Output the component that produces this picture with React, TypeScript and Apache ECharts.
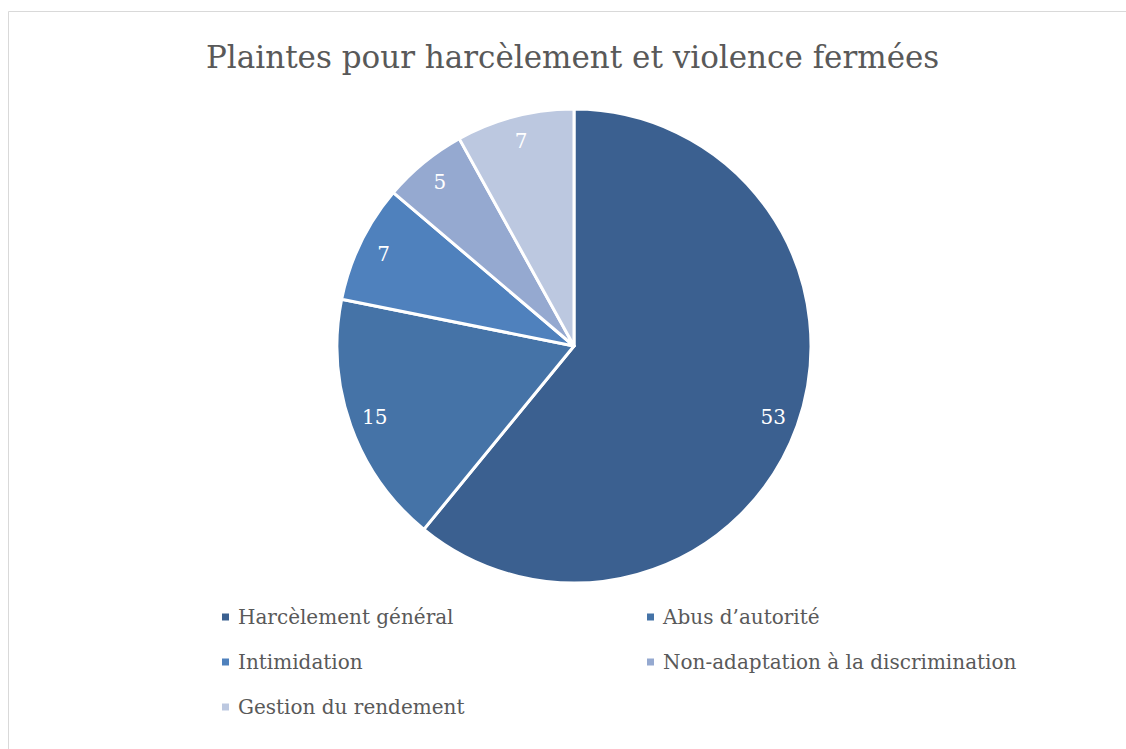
import React, { useEffect, useRef } from "react";
import * as echarts from "echarts";

const categories = [
  "Harcèlement général",
  "Abus d’autorité",
  "Intimidation",
  "Non-adaptation à la discrimination",
  "Gestion du rendement",
];
const values = [53, 15, 7, 5, 7];
const colors = ["#3b6090", "#4573a7", "#4f81bd", "#95a9d0", "#bcc8e0"];
const titleText = "Plaintes pour harcèlement et violence fermées";

const FONT = "DejaVu Serif";

export default function App() {
  const ref = useRef<HTMLDivElement>(null);
  useEffect(() => {
    if (!ref.current) return;
    const chart = echarts.init(ref.current, undefined, { renderer: "svg" });
    const data = categories.map((name, i) => ({
      name,
      value: values[i],
      itemStyle: { color: colors[i] },
    }));
    const R = 237;
    const legendText = {
      fontFamily: FONT,
      fontSize: 20,
      lineHeight: 20,
      color: "#595959",
      padding: [0, 0, 0, 3],
    };
    chart.setOption({
      animation: false,
      backgroundColor: "#ffffff",
      title: {
        text: titleText,
        left: 201,
        top: 36,
        textStyle: {
          fontFamily: FONT,
          fontSize: 31,
          fontWeight: "normal",
          color: "#595959",
        },
      },
      graphic: [
        {
          type: "rect",
          shape: { x: 8.5, y: 11.5, width: 1300, height: 900 },
          style: { fill: "none", stroke: "#d9d9d9", lineWidth: 1 },
          silent: true,
        },
      ],
      legend: [
        {
          data: [categories[0], categories[2], categories[4]],
          orient: "vertical",
          left: 220,
          top: 607,
          padding: 0,
          itemWidth: 9,
          itemHeight: 9,
          itemGap: 25,
          icon: "rect",
          textStyle: legendText,
        },
        {
          data: [categories[1], categories[3]],
          orient: "vertical",
          left: 645,
          top: 607,
          padding: 0,
          itemWidth: 9,
          itemHeight: 9,
          itemGap: 25,
          icon: "rect",
          textStyle: legendText,
        },
      ],
      series: [
        {
          type: "pie",
          center: [574, 346],
          radius: [0, R],
          startAngle: 90,
          clockwise: true,
          data,
          label: { show: false },
          labelLine: { show: false },
          itemStyle: { borderColor: "#ffffff", borderWidth: 3 },
          emphasis: { disabled: true },
        },
        {
          type: "pie",
          center: [574, 346],
          radius: [R * 0.76, R],
          startAngle: 90,
          clockwise: true,
          silent: true,
          data: data.map((d) => ({
            name: d.name,
            value: d.value,
            itemStyle: { color: "rgba(0,0,0,0)" },
          })),
          label: {
            show: true,
            position: "inside",
            formatter: "{c}",
            fontFamily: FONT,
            fontSize: 20,
            color: "#ffffff",
          },
          labelLine: { show: false },
          itemStyle: { borderWidth: 0 },
          emphasis: { disabled: true },
        },
      ],
    });
    return () => chart.dispose();
  }, []);
  return (
    <div
      ref={ref}
      style={{ position: "fixed", left: 0, top: 0, width: 1126, height: 749 }}
    />
  );
}
